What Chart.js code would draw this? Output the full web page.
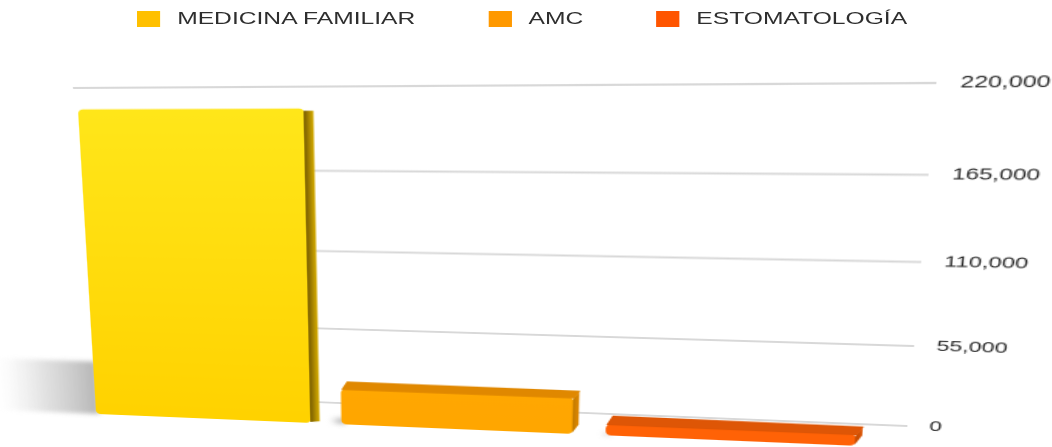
<!DOCTYPE html>
<html lang="es">
<head>
<meta charset="utf-8">
<title>Consultas por servicio</title>
<script src="https://cdn.jsdelivr.net/npm/chart.js@4.4.1/dist/chart.umd.min.js"></script>
<style>
  html, body { margin: 0; padding: 0; background: #ffffff; }
  #stage { position: relative; width: 1052px; height: 447px; overflow: hidden; background: #ffffff; }
  #stage canvas { position: absolute; left: 0; top: 0; transform-origin: 0 0; }
  #legend {
    position: absolute; left: 521.5px; top: 11px; height: 16px;
    transform: translateX(-50%) scaleX(1.55); transform-origin: center;
    display: flex; align-items: center; white-space: nowrap;
    font: 15.9px "Liberation Sans", Arial, Helvetica, sans-serif; color: #2e2e2e;
  }
  #legend .item { display: flex; align-items: center; margin-right: 47px; }
  #legend .item:last-child { margin-right: 0; }
  #legend .swatch { width: 15px; height: 16px; margin-right: 11px; }
</style>
</head>
<body>
<div id="stage">
  <canvas id="wall" width="795" height="447"></canvas>
  <canvas id="bars" width="795" height="447"></canvas>
  <div id="legend"></div>
</div>
<script>
// ---- data ----
const categories = [''];
const seriesNames = ['MEDICINA FAMILIAR', 'AMC', 'ESTOMATOLOGÍA'];
const medicinaFamiliar = [204000];
const amc = [24500];
const estomatologia = [8000];
const yTicks = [0, 55000, 110000, 165000, 220000];

// ---- styles ----
const legendColors = ['#FFC000', '#FF9900', '#FF5500'];
const faceTop = ['#FFE81C', '#FFB012', '#FF6A0E'];
const faceBottom = ['#FFD200', '#FFA600', '#FF6206'];
const sideColors = ['#7c6000', '#c47c00', '#c24a00'];
const capColors = ['#D8AE00', '#E08800', '#DE5606'];
const FONT = '"Liberation Sans", Arial, Helvetica, sans-serif';

// Perspective frames (TL, TR, BR, BL) for the back wall and the bar front plane
const wallFrame = [[73, 88], [936, 83], [907, 426], [112, 393.8]];
const floorFrame = [[61.5, 84.2], [901.9, 77.6], [873, 447.6], [82, 414.3]];

function squareToQuad(q) {
  const [x0, y0] = q[0], [x1, y1] = q[1], [x2, y2] = q[2], [x3, y3] = q[3];
  const dx1 = x1 - x2, dx2 = x3 - x2, dx3 = x0 - x1 + x2 - x3;
  const dy1 = y1 - y2, dy2 = y3 - y2, dy3 = y0 - y1 + y2 - y3;
  const den = dx1 * dy2 - dx2 * dy1;
  const g = (dx3 * dy2 - dx2 * dy3) / den;
  const h = (dx1 * dy3 - dx3 * dy1) / den;
  return [
    [x1 - x0 + g * x1, x3 - x0 + h * x3, x0],
    [y1 - y0 + g * y1, y3 - y0 + h * y3, y0],
    [g, h, 1]
  ];
}
function mul(A, B) {
  const R = [[0,0,0],[0,0,0],[0,0,0]];
  for (let i = 0; i < 3; i++) for (let j = 0; j < 3; j++)
    for (let k = 0; k < 3; k++) R[i][j] += A[i][k] * B[k][j];
  return R;
}
function applyFrame(chart, quad) {
  const a = chart.chartArea;
  const w = a.right - a.left, h = a.bottom - a.top;
  const N = [[1 / w, 0, -a.left / w], [0, 1 / h, -a.top / h], [0, 0, 1]];
  const H = mul(squareToQuad(quad), N);
  const s = H[2][2];
  const m = H.map(r => r.map(v => v / s));
  chart.canvas.style.transform = 'matrix3d(' + [
    m[0][0], m[1][0], 0, m[2][0],
    m[0][1], m[1][1], 0, m[2][1],
    0, 0, 1, 0,
    m[0][2], m[1][2], 0, m[2][2]
  ].join(',') + ')';
}

function axisOptions(visible) {
  return {
    responsive: false,
    animation: false,
    devicePixelRatio: 2,
    layout: { padding: { left: 100, right: 12, top: 60, bottom: 62 } },
    plugins: { legend: { display: false }, tooltip: { enabled: false } },
    scales: {
      x: { display: false, offset: true },
      y: {
        position: 'right',
        min: yTicks[0],
        max: yTicks[yTicks.length - 1],
        afterBuildTicks: s => { s.ticks = yTicks.map(v => ({ value: v })); },
        border: { display: false },
        grid: { color: visible ? '#d8d8d8' : 'rgba(0,0,0,0)', lineWidth: 2, drawTicks: false },
        ticks: {
          color: visible ? '#2a2a2a' : 'rgba(0,0,0,0)',
          padding: 15,
          font: { family: FONT, size: 15 },
          callback: v => Number(v).toLocaleString('en-US')
        }
      }
    }
  };
}

// Soft floor shadow cast to the left of each bar
const floorShadow = {
  id: 'floorShadow',
  beforeDatasetsDraw(chart) {
    const ctx = chart.ctx;
    chart.data.datasets.forEach((ds, i) => {
      chart.getDatasetMeta(i).data.forEach(el => {
        const { x, y, base, width } = el.getProps(['x', 'y', 'base', 'width'], true);
        const hgt = base - y;
        const left = x - width / 2;
        const len = 0.27 * hgt, sh = Math.min(54, 0.18 * hgt);
        const g = ctx.createLinearGradient(left - len, 0, left, 0);
        g.addColorStop(0, 'rgba(210,210,210,0)');
        g.addColorStop(0.5, 'rgba(180,180,180,0.42)');
        g.addColorStop(1, 'rgba(140,140,140,0.62)');
        ctx.save();
        ctx.filter = 'blur(5px)';
        ctx.fillStyle = g;
        ctx.fillRect(left - len, base - sh, len + 3, sh);
        ctx.restore();
      });
    });
  }
};

// Side and top faces that give each bar its depth
const barDepth = {
  id: 'barDepth',
  afterDatasetsDraw(chart) {
    const ctx = chart.ctx, area = chart.chartArea, ys = chart.scales.y;
    const horizon = ys.getPixelForValue(ys.max * 0.85);
    chart.data.datasets.forEach((ds, i) => {
      chart.getDatasetMeta(i).data.forEach(el => {
        const { x, y, base, width } = el.getProps(['x', 'y', 'base', 'width'], true);
        const left = x - width / 2, right = x + width / 2;
        const t = (right - area.left) / (area.right - area.left);
        const dx = Math.max(4.1, 6.9 - 8.4 * (t - 0.313));
        const dy = Math.max(0, (y - horizon) * 0.03);
        ctx.save();
        ctx.lineJoin = 'round';
        // side face
        const sg = ctx.createLinearGradient(right, 0, right + dx, 0);
        sg.addColorStop(0, sideColors[i]);
        sg.addColorStop(1, capColors[i]);
        ctx.fillStyle = sg;
        ctx.beginPath();
        ctx.moveTo(right - 0.5, y + 2);
        ctx.lineTo(right + dx, y - dy + 2);
        ctx.lineTo(right + dx, base - dy - 2);
        ctx.lineTo(right - 0.5, base - 1);
        ctx.closePath();
        ctx.fill();
        // top face
        if (dy > 0.5) {
          ctx.fillStyle = capColors[i];
          ctx.strokeStyle = capColors[i];
          ctx.lineWidth = 1;
          ctx.beginPath();
          ctx.moveTo(left + 1, y + 0.5);
          ctx.lineTo(right, y + 0.5);
          ctx.lineTo(right + dx, y - dy + 1);
          ctx.lineTo(left + dx + 1, y - dy);
          ctx.closePath();
          ctx.fill();
          ctx.stroke();
        }
        ctx.restore();
      });
    });
  }
};

function frontFill(i) {
  return c => {
    const a = c.chart.chartArea;
    if (!a) return faceTop[i];
    const g = c.chart.ctx.createLinearGradient(0, a.top, 0, a.bottom);
    g.addColorStop(0, faceTop[i]);
    g.addColorStop(1, faceBottom[i]);
    return g;
  };
}

Chart.defaults.font.family = FONT;

// Back wall: grid lines and value labels
const wallChart = new Chart(document.getElementById('wall'), {
  type: 'bar',
  data: { labels: categories, datasets: [] },
  options: axisOptions(true)
});
applyFrame(wallChart, wallFrame);

// Bars
const seriesData = [medicinaFamiliar, amc, estomatologia];
const barChart = new Chart(document.getElementById('bars'), {
  type: 'bar',
  data: {
    labels: categories,
    datasets: seriesNames.map((name, i) => ({
      label: name,
      data: seriesData[i],
      backgroundColor: frontFill(i),
      borderRadius: 4,
      borderSkipped: false,
      categoryPercentage: 1,
      barPercentage: 0.88
    }))
  },
  options: axisOptions(false),
  plugins: [floorShadow, barDepth]
});
applyFrame(barChart, floorFrame);

// Legend
const legend = document.getElementById('legend');
barChart.data.datasets.forEach((ds, i) => {
  const item = document.createElement('div');
  item.className = 'item';
  const sw = document.createElement('span');
  sw.className = 'swatch';
  sw.style.background = legendColors[i];
  const tx = document.createElement('span');
  tx.textContent = ds.label;
  item.appendChild(sw);
  item.appendChild(tx);
  legend.appendChild(item);
});
</script>
</body>
</html>
